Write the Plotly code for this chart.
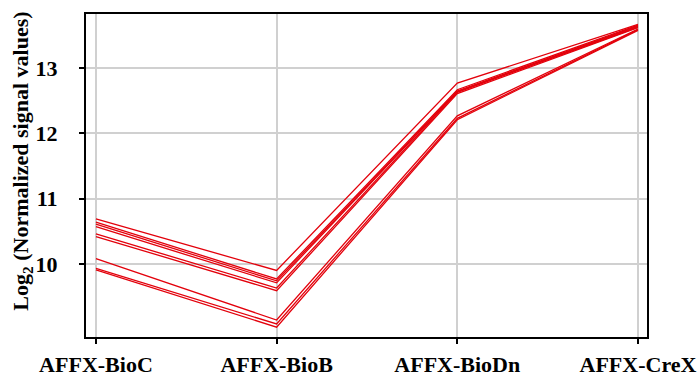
import plotly.graph_objects as go

categories = ["AFFX-BioC", "AFFX-BioB", "AFFX-BioDn", "AFFX-CreX"]

array_1 = [10.69, 9.90, 12.77, 13.67]
array_2 = [10.64, 9.77, 12.67, 13.66]
array_3 = [10.61, 9.74, 12.65, 13.65]
array_4 = [10.57, 9.71, 12.64, 13.64]
array_5 = [10.46, 9.63, 12.63, 13.63]
array_6 = [10.42, 9.59, 12.61, 13.62]
array_7 = [10.08, 9.14, 12.27, 13.60]
array_8 = [9.93, 9.08, 12.23, 13.59]
array_9 = [9.91, 9.03, 12.21, 13.58]

series = [array_1, array_2, array_3, array_4, array_5, array_6, array_7, array_8, array_9]

y_ticks = [10, 11, 12, 13]

FONT = "Liberation Serif"
FS = 22

fig = go.Figure()
for s in series:
    fig.add_trace(go.Scatter(
        x=categories, y=s, mode="lines",
        line=dict(color="#e3000b", width=1.3),
        showlegend=False, hoverinfo="skip",
    ))

fig.update_layout(
    width=698, height=376,
    margin=dict(l=86, r=51, t=14, b=39),
    paper_bgcolor="white", plot_bgcolor="white",
    font=dict(family=FONT, size=FS, color="black"),
    showlegend=False,
)

fig.update_xaxes(
    type="category", categoryorder="array", categoryarray=categories,
    range=[-0.055, 3.05], automargin=False,
    showgrid=True, gridcolor="#d0d0d0", gridwidth=1.5,
    showline=True, linecolor="black", linewidth=2, mirror=True,
    ticks="outside", ticklen=5, tickwidth=1.5, tickcolor="black",
    tickfont=dict(family=FONT, size=FS, color="black", weight="bold"),
    ticklabelstandoff=2,
    zeroline=False,
)

fig.update_yaxes(
    range=[8.88, 13.83], automargin=False,
    tickvals=y_ticks, ticktext=[str(v) for v in y_ticks],
    showgrid=True, gridcolor="#d0d0d0", gridwidth=1.5,
    showline=True, linecolor="black", linewidth=2, mirror=True,
    ticks="outside", ticklen=5, tickwidth=1.5, tickcolor="black",
    tickfont=dict(family=FONT, size=FS, color="black", weight="bold"),
    ticklabelstandoff=17,
    zeroline=False,
)

fig.add_annotation(
    text="<b>Log<sub>2</sub> (Normalized signal values)</b>",
    textangle=-90, xref="paper", yref="paper",
    x=-0.114, y=0.543, xanchor="center", yanchor="middle",
    showarrow=False, font=dict(family=FONT, size=FS, color="black"),
)

fig.write_html(
    "out.html",
    config={"displayModeBar": False},
    post_script="document.body.style.margin='0';document.body.style.overflow='hidden';",
)
